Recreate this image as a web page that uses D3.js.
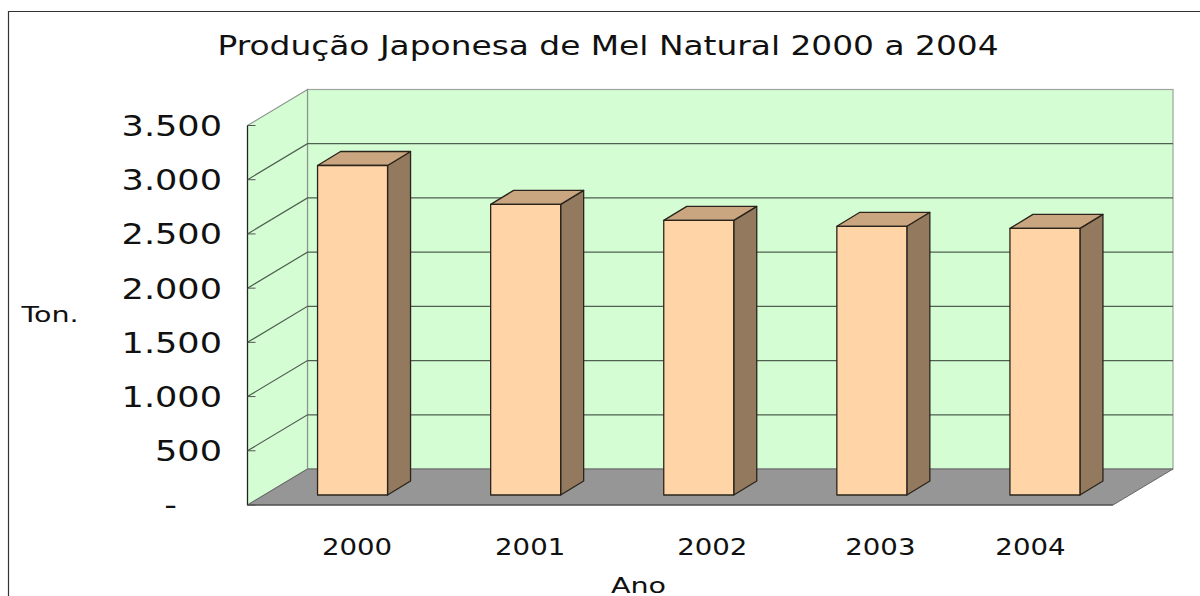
<!DOCTYPE html>
<html>
<head>
<meta charset="utf-8">
<script src="https://cdn.jsdelivr.net/npm/d3@7"></script>
<style>
  html, body { margin: 0; background: #fff; }
  svg { display: block; }
</style>
</head>
<body>
<div id="chart"></div>
<script>
const years = ['2000', '2001', '2002', '2003', '2004'];
const production = [3039, 2680, 2533, 2478, 2459];
const yTicks = [0, 500, 1000, 1500, 2000, 2500, 3000, 3500];

const width = 1200;
const height = 596;
const fontFamily = '"DejaVu Sans", Verdana, sans-serif';

// front plane of the 3d box
const plot = { left: 247.5, right: 1113, top: 125.5, bottom: 505 };
// shift from front plane to back wall, and from bar front to bar back
const wallDepth = { x: 60, y: -36 };
const barDepth = { x: 23, y: -14 };
const barFront = { x: 18.5, y: -10 };
const barWidth = 70;
// the year labels are not evenly spaced in the original
const labelShift = [23, 23, 32, 27, 4];

const x = d3.scaleBand().domain(years).range([plot.left, plot.right]);
const y = d3.scaleLinear().domain([0, 3500]).range([plot.bottom, plot.top]);
const brFormat = d3.formatLocale({ decimal: ',', thousands: '.', grouping: [3], currency: ['', ''] }).format(',d');

const svg = d3.select('#chart')
  .append('svg')
  .attr('width', width)
  .attr('height', height);

const poly = (points) => points.map((p) => p.join(',')).join(' ');

// Draws horizontally stretched text, the original picture is wider than tall
function addText(px, py, text, size, anchor, stretch) {
  return svg.append('text')
    .attr('transform', `translate(${px},${py}) scale(${stretch},1)`)
    .attr('text-anchor', anchor)
    .attr('font-family', fontFamily)
    .attr('font-size', size)
    .attr('fill', '#111')
    .text(text);
}

// Outer frame runs off the right and bottom of the picture
svg.append('path')
  .attr('d', `M8.5,${height} V11.5 H${width}`)
  .attr('fill', 'none')
  .attr('stroke', '#333')
  .attr('stroke-width', 1.2);

addText(608, 54.5, 'Produção Japonesa de Mel Natural 2000 a 2004', 26.5, 'middle', 1.24);

const backLeft = plot.left + wallDepth.x;
const backRight = plot.right + wallDepth.x;

// Back wall
svg.append('rect')
  .attr('x', backLeft)
  .attr('y', plot.top + wallDepth.y)
  .attr('width', backRight - backLeft)
  .attr('height', plot.bottom - plot.top)
  .attr('fill', '#d4fdd4')
  .attr('stroke', '#9aa59b')
  .attr('stroke-width', 1.2);

// Left wall
svg.append('polygon')
  .attr('points', poly([
    [plot.left, plot.top],
    [backLeft, plot.top + wallDepth.y],
    [backLeft, plot.bottom + wallDepth.y],
    [plot.left, plot.bottom]
  ]))
  .attr('fill', '#d4fdd4')
  .attr('stroke', '#8a938b')
  .attr('stroke-width', 1.2);

// Floor
svg.append('polygon')
  .attr('points', poly([
    [plot.left, plot.bottom],
    [backLeft, plot.bottom + wallDepth.y],
    [backRight, plot.bottom + wallDepth.y],
    [plot.right, plot.bottom]
  ]))
  .attr('fill', '#969696')
  .attr('stroke', '#666')
  .attr('stroke-width', 1);

// Gridlines on both walls
const gridTicks = yTicks.filter((d) => d > 0 && d < 3500);

svg.append('g')
  .selectAll('path')
  .data(gridTicks)
  .join('path')
  .attr('d', (d) => `M${plot.left},${y(d)} L${backLeft},${y(d) + wallDepth.y} H${backRight}`)
  .attr('fill', 'none')
  .attr('stroke', '#4f5f50')
  .attr('stroke-width', 1.2);

// Front axis line and ticks
svg.append('line')
  .attr('x1', plot.left)
  .attr('x2', plot.left)
  .attr('y1', plot.top)
  .attr('y2', plot.bottom)
  .attr('stroke', '#222')
  .attr('stroke-width', 1.2);

svg.append('line')
  .attr('x1', plot.left)
  .attr('x2', plot.right)
  .attr('y1', plot.bottom)
  .attr('y2', plot.bottom)
  .attr('stroke', '#444')
  .attr('stroke-width', 1.2);

svg.append('g')
  .selectAll('line')
  .data(yTicks)
  .join('line')
  .attr('x1', plot.left)
  .attr('x2', plot.left + 8)
  .attr('y1', (d) => y(d))
  .attr('y2', (d) => y(d))
  .attr('stroke', '#555')
  .attr('stroke-width', 1);

// Bars: side, top, then front face
const bars = svg.append('g')
  .selectAll('g')
  .data(years.map((year, i) => ({ year, value: production[i] })))
  .join('g')
  .attr('stroke', '#2a241c')
  .attr('stroke-width', 1.3)
  .attr('stroke-linejoin', 'round');

const barLeft = (d) => x(d.year) + x.bandwidth() / 2 - barWidth / 2 + barFront.x;
const barTop = (d) => y(d.value) + barFront.y;
const barBase = y(0) + barFront.y;

bars.append('polygon')
  .attr('fill', '#937a5e')
  .attr('points', (d) => poly([
    [barLeft(d) + barWidth, barTop(d)],
    [barLeft(d) + barWidth + barDepth.x, barTop(d) + barDepth.y],
    [barLeft(d) + barWidth + barDepth.x, barBase + barDepth.y],
    [barLeft(d) + barWidth, barBase]
  ]));

bars.append('polygon')
  .attr('fill', '#c9a680')
  .attr('points', (d) => poly([
    [barLeft(d), barTop(d)],
    [barLeft(d) + barDepth.x, barTop(d) + barDepth.y],
    [barLeft(d) + barWidth + barDepth.x, barTop(d) + barDepth.y],
    [barLeft(d) + barWidth, barTop(d)]
  ]));

bars.append('rect')
  .attr('fill', '#ffd5a8')
  .attr('x', barLeft)
  .attr('y', barTop)
  .attr('width', barWidth)
  .attr('height', (d) => barBase - barTop(d));

// Value axis labels, zero is shown as a dash further to the left
yTicks.forEach((d) => {
  if (d === 0) {
    addText(177, y(d) + 10, '-', 29, 'end', 1.21);
  } else {
    addText(222, y(d) + 10.5, brFormat(d), 29, 'end', 1.21);
  }
});

// Year labels
years.forEach((year, i) => {
  addText(x(year) + x.bandwidth() / 2 + labelShift[i], 555, year, 23, 'middle', 1.2);
});

addText(50, 322, 'Ton.', 21, 'middle', 1.36);
addText(638.5, 593, 'Ano', 21, 'middle', 1.36);
</script>
</body>
</html>
